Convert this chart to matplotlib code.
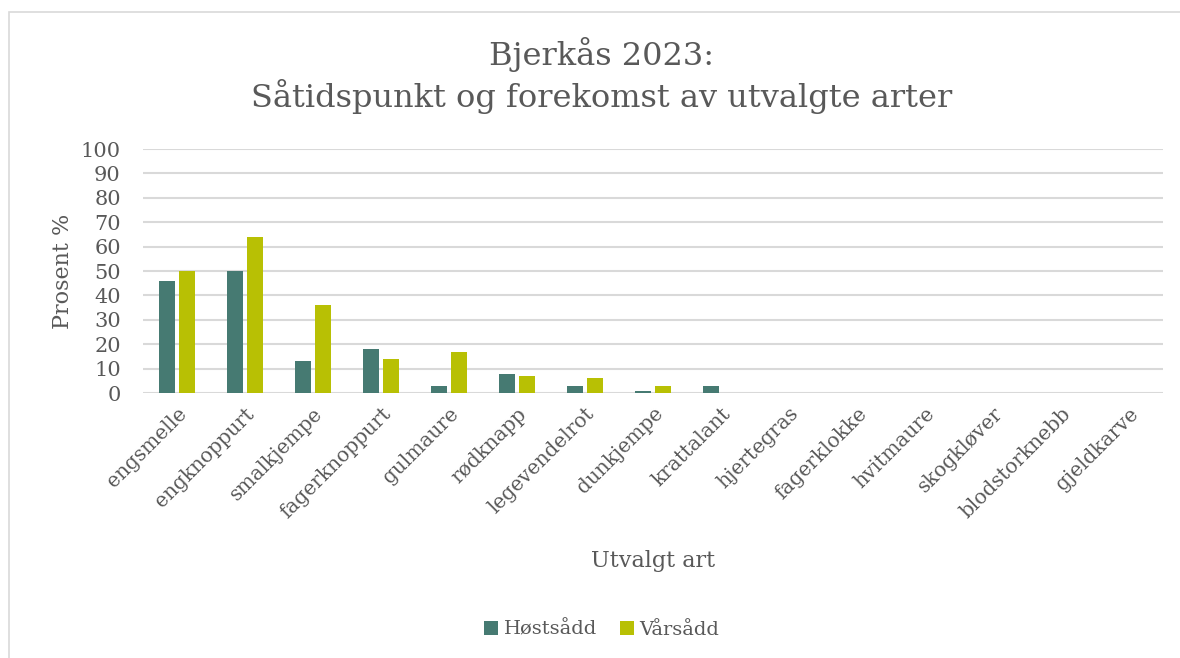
import matplotlib.pyplot as plt
import numpy as np
from matplotlib.patches import Rectangle

arter = ["engsmelle", "engknoppurt", "smalkjempe", "fagerknoppurt", "gulmaure",
         "rødknapp", "legevendelrot", "dunkjempe", "krattalant", "hjertegras",
         "fagerklokke", "hvitmaure", "skogkløver", "blodstorknebb", "gjeldkarve"]
hostsadd = [46, 50, 13, 18, 3, 8, 3, 1, 3, 0, 0, 0, 0, 0, 0]
varsadd = [50, 64, 36, 14, 17, 7, 6, 3, 0, 0, 0, 0, 0, 0, 0]

teal = "#467A72"
lime = "#B8C004"
grey = "#595959"

plt.rcParams['font.family'] = ['DejaVu Serif']

fig = plt.figure(figsize=(11.8, 6.58), dpi=100)
ax = fig.add_axes([0.1212, 0.4027, 0.8644, 0.3708])

x = np.arange(len(arter))
w = 0.235
ax.bar(x - w / 2 - 0.03, hostsadd, w, color=teal, label="Høstsådd")
ax.bar(x + w / 2 + 0.03, varsadd, w, color=lime, label="Vårsådd")

ax.set_xlim(-0.5, len(arter) - 0.5)
ax.set_ylim(0, 100)
ax.set_yticks(range(0, 101, 10))
ax.yaxis.grid(True, color="#D9D9D9", linewidth=1.5)
ax.set_axisbelow(True)
for s in ax.spines.values():
    s.set_visible(False)
ax.tick_params(length=0, colors=grey)
ax.tick_params(axis="y", pad=16, labelsize=15)
ax.set_xticks(x)
ax.set_xticklabels(arter, rotation=45, ha="right", rotation_mode="anchor")
ax.tick_params(axis="x", pad=8, labelsize=14.5)

ax.set_ylabel("Prosent %", color=grey, fontsize=16, labelpad=5)
ax.set_xlabel("Utvalgt art", color=grey, fontsize=16, labelpad=20)

fig.text(0.51, 0.885, "Bjerkås 2023:\nSåtidspunkt og forekomst av utvalgte arter",
         ha="center", va="center", color=grey, fontsize=23, linespacing=1.25)

fig.legend(loc="center", bbox_to_anchor=(0.51, 0.043), ncol=2, frameon=False,
           fontsize=14, labelcolor=grey, handlelength=0.7, handleheight=0.7,
           handletextpad=0.3, columnspacing=1.2)

fig.patches.append(Rectangle((0.0075, -0.01), 1.0, 0.992, transform=fig.transFigure,
                             fill=False, edgecolor="#D9D9D9", linewidth=1.2))

fig.savefig("out.png", dpi=100)
